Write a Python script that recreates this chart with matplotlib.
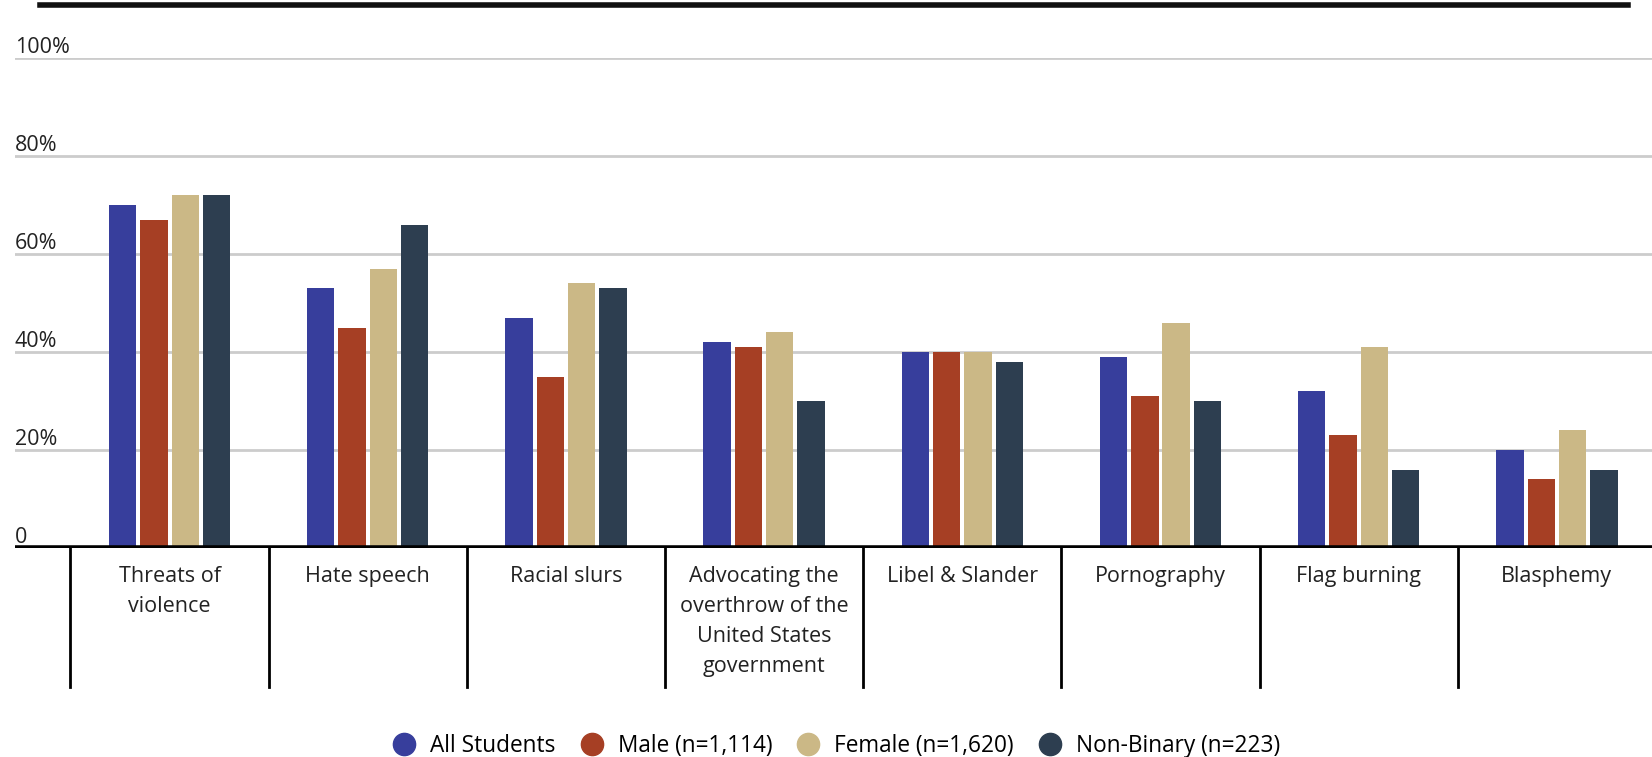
import matplotlib
matplotlib.use("Agg")
import matplotlib.pyplot as plt
from matplotlib.lines import Line2D
import matplotlib.transforms as mtransforms
import numpy as np

plt.rcParams['font.family'] = ['Open Sans', 'DejaVu Sans']

categories = ["Threats of\nviolence", "Hate speech", "Racial slurs",
              "Advocating the\noverthrow of the\nUnited States\ngovernment",
              "Libel & Slander", "Pornography", "Flag burning", "Blasphemy"]
series_names = ["All Students", "Male (n=1,114)", "Female (n=1,620)", "Non-Binary (n=223)"]
all_students = [70, 53, 47, 42, 40, 39, 32, 20]
male = [67, 45, 35, 41, 40, 31, 23, 14]
female = [72, 57, 54, 44, 40, 46, 41, 24]
non_binary = [72, 66, 53, 30, 38, 30, 16, 16]
yticks = [0, 20, 40, 60, 80, 100]
ytick_labels = ["0", "20%", "40%", "60%", "80%", "100%"]

colors = ["#373E9C", "#A63F24", "#CBB886", "#2D3E50"]
series = [all_students, male, female, non_binary]

W, H = 1652, 757
fig = plt.figure(figsize=(W / 100, H / 100), dpi=100)
ax = fig.add_axes([15 / W, 1 - 548 / H, 1 - 15 / W, (548 - 58) / H])

x = np.arange(len(categories))
bw = 0.138
pitch = 0.158
for k, (vals, c) in enumerate(zip(series, colors)):
    ax.bar(x + (k - 1.5) * pitch, vals, width=bw, color=c, zorder=3)

ax.set_xlim(-0.78, 7.48)
ax.set_ylim(0, 100)
for s in ax.spines.values():
    s.set_visible(False)
ax.set_xticks([])
ax.set_yticks([])

# gridlines
for t in yticks[1:]:
    ax.axhline(t, color="#CCCCCC", lw=2, zorder=1)
ax.axhline(0, color="black", lw=4, zorder=4)

# y labels above gridlines
trans_y = mtransforms.blended_transform_factory(ax.transAxes, ax.transData)
for t, lab in zip(yticks, ytick_labels):
    ax.text(0, t + 1.1, lab, transform=trans_y, ha="left", va="baseline",
            fontsize=15.5, color="#222222")

# category separators and labels
trans_x = mtransforms.blended_transform_factory(ax.transData, ax.transAxes)
for i, cat in enumerate(categories):
    ax.plot([i - 0.5, i - 0.5], [0, -0.284], transform=trans_x, color="black",
            lw=2, clip_on=False, zorder=4)
    ax.text(i, -0.036, cat, transform=trans_x, ha="center", va="top",
            fontsize=15.5, color="#222222", linespacing=1.56)

# top rule
fig.add_artist(Line2D([40 / W, 1628 / W], [1 - 5 / H, 1 - 5 / H], color="#111111", lw=4))

handles = [Line2D([], [], marker="o", linestyle="none", markersize=16,
                  markerfacecolor=c, markeredgecolor=c) for c in colors]
fig.legend(handles, series_names, loc="center", bbox_to_anchor=(0.506, 1 - 746 / H),
           ncol=4, frameon=False, fontsize=16.3, handletextpad=0.6,
           columnspacing=1.05, handlelength=1.1)

fig.savefig("out.png", dpi=100)
